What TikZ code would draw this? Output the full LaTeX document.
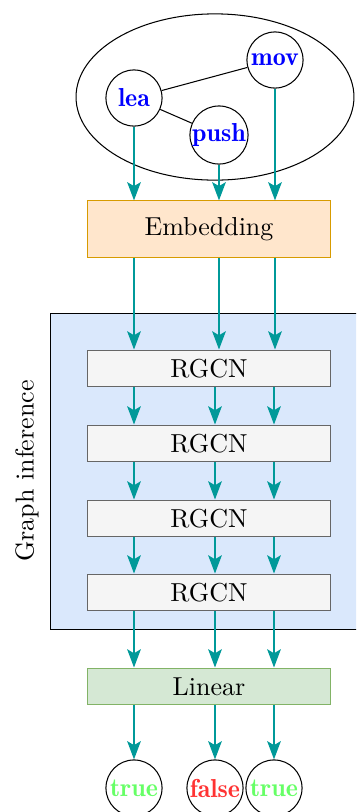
\documentclass[tikz,border=0pt]{standalone}
\usetikzlibrary{positioning}
\usetikzlibrary{arrows.meta}
\usetikzlibrary{shapes.geometric}
\definecolor{arrteal}{HTML}{009999}
\definecolor{embfill}{HTML}{FFE6CC}
\definecolor{embdraw}{HTML}{D79B00}
\definecolor{gifill}{HTML}{DAE8FC}
\definecolor{rgfill}{HTML}{F5F5F5}
\definecolor{rgdraw}{HTML}{666666}
\definecolor{linfill}{HTML}{D5E8D4}
\definecolor{lindraw}{HTML}{82B366}
\definecolor{truegreen}{HTML}{66FF66}
\definecolor{falsered}{HTML}{FF3333}
\tikzset{
	insn/.style={circle,draw,minimum size=21.6pt,inner sep=0pt,font=\fontseries{b}\selectfont,text=blue},
	outcome/.style={circle,draw,minimum size=21.6pt,inner sep=0pt,font=\fontseries{b}\selectfont},
	layer/.style={rectangle,draw=rgdraw,fill=rgfill,minimum width=93.2pt,minimum height=14.2pt,inner sep=0pt},
	flow/.style={-{Stealth[length=7pt,width=5.2pt,inset=1.5pt]},draw=arrteal,line width=0.95pt},
}

\begin{document}
\begin{tikzpicture}[x=0.385pt,y=-0.385pt]
	\useasboundingbox (0,0) rectangle (356,812);
	\clip (0,0) rectangle (356,812);
	
	%graph inference box.....................
	\node [draw,fill=gifill,minimum width=134.4pt,minimum height=122pt,inner sep=0pt] (gi) at (225.5,471.5) {};
	\node [rotate=90] (gilabel) at (27,471) {Graph inference};
	
	%instruction graph.....................
	\node [ellipse,draw,minimum width=107pt,minimum height=64pt,inner sep=0pt] (graph) at (215,97) {};
	\node [insn] (lea) at (134,98) {lea};
	\node [insn] (mov) at (275,60) {mov};
	\node [insn] (push) at (219,135) {push};
	\draw (lea) -- (mov);
	\draw (lea) -- (push);
	
	%layers......................
	\node [layer,draw=embdraw,fill=embfill,minimum height=21.6pt] (emb) at (209,229) {Embedding};
	\foreach \i/\y in {1/368.5,2/443.5,3/518.5,4/592.5}
		\node [layer] (rg\i) at (209,\y) {RGCN};
	\node [layer,draw=lindraw,fill=linfill] (lin) at (209,686.5) {Linear};
	
	%outputs...................
	\node [outcome,text=truegreen] (out1) at (134,788) {true};
	\node [outcome,text=falsered] (out2) at (215,788) {false};
	\node [outcome,text=truegreen] (out3) at (274,788) {true};
	
	% arrows.............
	\foreach \n in {lea,push,mov}
		\draw [flow] (\n) -- (\n |- emb.north);
	\foreach \n in {lea,push,mov}
		\draw [flow] (emb.south -| \n) -- (rg1.north -| \n);
	\foreach \a/\b in {rg1/rg2,rg2/rg3,rg3/rg4,rg4/lin}
		\foreach \n in {out1,out2,out3}
			\draw [flow] (\a.south -| \n) -- (\b.north -| \n);
	\foreach \n in {out1,out2,out3}
		\draw [flow] (lin.south -| \n) -- (\n);
\end{tikzpicture}
\end{document}
